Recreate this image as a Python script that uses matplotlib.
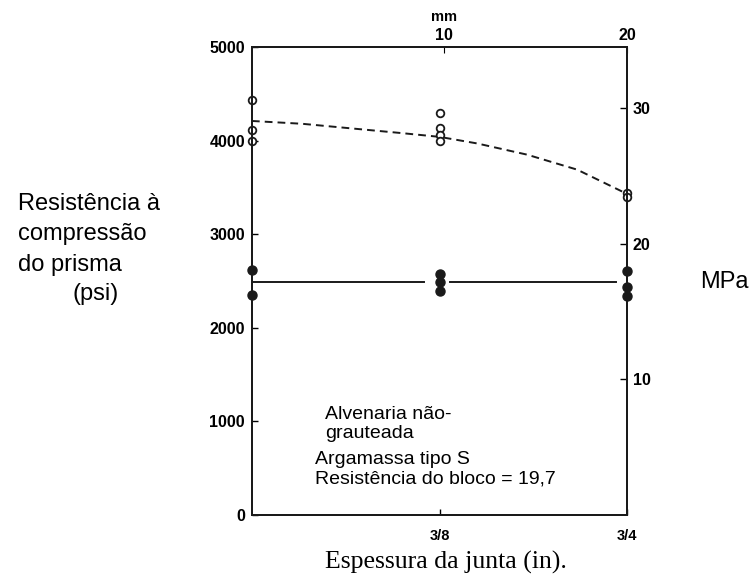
import matplotlib.pyplot as plt

PSI_TO_MPA = 0.006895

# joint thickness (in) and prism strength (psi)
open_x = [0, 0, 0, 3/8, 3/8, 3/8, 3/8, 3/4, 3/4]
open_y = [4430, 4110, 4000, 4290, 4130, 4060, 4000, 3440, 3400]

filled_x = [0, 0, 3/8, 3/8, 3/8, 3/4, 3/4, 3/4]
filled_y = [2620, 2350, 2580, 2490, 2390, 2610, 2440, 2335]

# dashed trend
dash_x = [0, 0.1, 0.2, 0.3, 0.375, 0.45, 0.55, 0.65, 0.75]
dash_y = [4210, 4180, 4130, 4080, 4040, 3970, 3850, 3690, 3430]

# solid horizontal line, drawn in two pieces
solid_a_x = [0, 0.344]
solid_b_x = [0.396, 0.728]
solid_level = 2490

xticks = [3/8, 3/4]
xtick_labels = ["3/8", "3/4"]
mm_ticks = [10, 20]
mm_lim = (-0.49, 20)       # top scale as drawn in the source
yticks = [0, 1000, 2000, 3000, 4000, 5000]
mpa_ticks = [10, 20, 30]

plt.rcParams["font.family"] = ["Liberation Sans", "DejaVu Sans"]
INK = "#1a1a1a"

fig = plt.figure(figsize=(7.52, 5.79), dpi=100)
ax = fig.add_axes([0.335, 0.1105, 0.499, 0.8083])

ax.plot(dash_x, dash_y, ls=(0, (4, 2.6)), color=INK, lw=1.4, clip_on=False)
ax.plot(solid_a_x, [solid_level] * 2, color=INK, lw=1.4)
ax.plot(solid_b_x, [solid_level] * 2, color=INK, lw=1.4)
ax.plot(open_x, open_y, "o", mfc="white", mec=INK, mew=1.3, ms=5.5, clip_on=False, zorder=5)
ax.plot(filled_x, filled_y, "o", color=INK, ms=6.5, clip_on=False, zorder=5)

ax.set_xlim(0, 0.75)
ax.set_ylim(0, 5000)
ax.set_xticks(xticks)
ax.set_xticklabels(xtick_labels, fontsize=10.5, fontweight="bold")
ax.set_yticks(yticks)
ax.set_yticklabels([str(v) for v in yticks], fontsize=11.5, fontweight="bold")
ax.tick_params(axis="x", direction="in", length=4, pad=10, width=1)
ax.tick_params(axis="y", direction="in", length=4, pad=5, width=1)

# top axis in mm
top = ax.twiny()
top.set_xlim(*mm_lim)
top.set_xticks(mm_ticks)
top.set_xticklabels([str(v) for v in mm_ticks], fontsize=11.5, fontweight="bold")
top.tick_params(axis="x", direction="in", length=4, pad=3)
top.text(10, 1.065, "mm", transform=top.get_xaxis_transform(), ha="center",
         va="center", fontsize=10.5, fontweight="bold")

# right axis in MPa
right = ax.twinx()
right.set_ylim(0, 5000 * PSI_TO_MPA)
right.set_yticks(mpa_ticks)
right.set_yticklabels([str(v) for v in mpa_ticks], fontsize=11.5, fontweight="bold")
right.tick_params(axis="y", direction="in", length=5, pad=4, width=1)

for a in (ax, top, right):
    for s in a.spines.values():
        s.set_linewidth(1.4)
        s.set_color(INK)

fig.text(446 / 752, 1 - 562 / 579, "Espessura da junta (in).",
         family=["Liberation Serif", "DejaVu Serif"], fontsize=18.5,
         ha="center", va="center")

fig.text(18 / 752, 1 - 234 / 579, "Resistência à\ncompressão\ndo prisma", fontsize=17,
         va="center", ha="left", linespacing=1.5)
fig.text(72 / 752, 1 - 294 / 579, "(psi)", fontsize=17, va="center", ha="left")
fig.text(700 / 752, 1 - 282 / 579, "MPa", fontsize=17, va="center", ha="left")

ax.text(0.146, 972, "Alvenaria não-\ngrauteada", fontsize=14, va="center", ha="left",
        linespacing=1.15)
ax.text(0.126, 491, "Argamassa tipo S\nResistência do bloco = 19,7", fontsize=14,
        va="center", ha="left", linespacing=1.15)

fig.savefig("out.png", dpi=100)
